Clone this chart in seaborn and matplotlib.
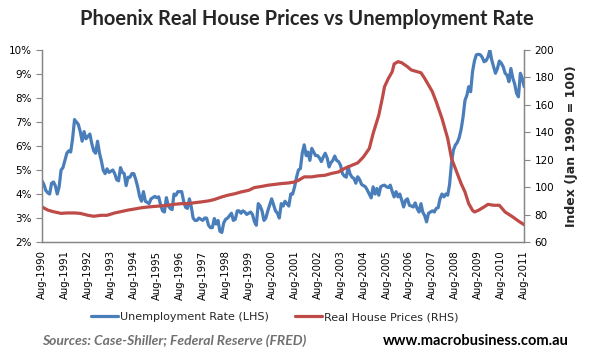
import matplotlib
matplotlib.use("Agg")
import matplotlib.pyplot as plt
import matplotlib.dates as mdates
from matplotlib.ticker import FuncFormatter, FixedLocator
import seaborn as sns
import pandas as pd

# -- data
# monthly unemployment rate (%), Aug-1990 .. Aug-2011
unemp_start = "1990-08-01"
unemp = [
    4.55, 4.4, 4.15, 4.05, 4.0, 4.45, 4.5, 4.35, 4.0, 4.3, 5.0, 5.1,
    5.4, 5.7, 5.8, 5.75, 6.3, 7.1, 7.0, 6.9, 6.6, 6.2, 6.6, 6.3,
    6.4, 6.5, 6.1, 5.8, 5.7, 6.2, 5.7, 5.4, 5.0, 4.85, 5.05, 4.9,
    4.95, 5.0, 4.85, 4.6, 4.55, 5.1, 4.9, 4.85, 4.35, 4.7, 4.7, 4.85,
    4.85, 4.6, 4.3, 3.9, 3.7, 4.1, 3.7, 3.65, 3.6, 3.8, 3.85, 3.9,
    3.85, 3.88, 3.55, 3.3, 3.25, 3.85, 3.5, 3.4, 3.35, 4.0, 3.95, 4.1,
    4.1, 4.1, 3.7, 3.45, 3.4, 3.8, 3.45, 3.0, 2.9, 2.9, 3.0, 2.95,
    2.9, 3.0, 3.0, 2.7, 2.6, 2.6, 2.98, 2.75, 2.9, 2.45, 2.4, 2.8,
    2.95, 3.0, 3.1, 3.2, 2.9, 2.95, 3.3, 3.3, 3.2, 3.3, 3.25, 3.15,
    3.2, 3.25, 3.15, 2.85, 2.7, 3.6, 3.5, 3.3, 2.9, 3.0, 3.3, 3.55,
    3.8, 3.55, 3.3, 3.2, 3.0, 3.6, 3.5, 3.7, 3.6, 3.5, 4.0, 4.0,
    4.3, 4.7, 5.0, 5.06, 5.7, 6.05, 5.6, 5.75, 5.4, 5.9, 5.75, 5.6,
    5.6, 5.5, 5.35, 5.55, 5.7, 5.5, 5.13, 5.3, 5.4, 5.58, 5.4, 5.35,
    5.2, 4.85, 4.75, 4.7, 5.13, 4.83, 4.7, 4.65, 4.45, 4.72, 4.6, 4.4,
    4.35, 4.3, 4.16, 4.0, 3.84, 4.3, 4.0, 4.23, 3.95, 4.3, 4.35, 4.37,
    4.3, 4.27, 4.37, 4.1, 3.88, 4.1, 3.88, 4.0, 3.74, 3.46, 3.74, 3.8,
    3.53, 3.5, 3.46, 3.63, 3.4, 3.25, 3.6, 3.25, 3.1, 2.84, 3.2, 3.25,
    3.3, 3.25, 3.4, 3.43, 3.8, 4.0, 3.88, 4.0, 3.95, 4.4, 5.3, 5.83,
    6.04, 6.15, 6.35, 6.7, 7.2, 7.9, 8.12, 8.47, 8.26, 9.1, 9.55, 9.8,
    9.82, 9.8, 9.7, 9.51, 9.55, 9.7, 10.0, 9.6, 9.3, 9.03, 9.23, 9.54,
    9.45, 9.3, 9.03, 8.95, 8.68, 9.23, 8.82, 8.6, 8.2, 8.05, 9.03, 8.82, 8.47,
]

# real house price index (Jan 1990 = 100)
house_dates = [
    "1990-08", "1990-11", "1991-02", "1991-06", "1991-09", "1992-01", "1992-04",
    "1992-08", "1992-11", "1993-03", "1993-06", "1993-10", "1994-01", "1994-05",
    "1994-08", "1994-12", "1995-03", "1995-07", "1995-10", "1996-02", "1996-05",
    "1996-09", "1996-12", "1997-04", "1997-07", "1997-11", "1998-02", "1998-06",
    "1998-09", "1999-01", "1999-04", "1999-08", "1999-11", "2000-03", "2000-06",
    "2000-10", "2001-01", "2001-05", "2001-08", "2001-10", "2002-01", "2002-05",
    "2002-08", "2002-12", "2003-03", "2003-07", "2003-10", "2004-02", "2004-05",
    "2004-08", "2004-11", "2005-01", "2005-04", "2005-06", "2005-07", "2005-09",
    "2005-11", "2005-12", "2006-02", "2006-04", "2006-07", "2006-09", "2006-12",
    "2007-02", "2007-04", "2007-08", "2007-10", "2008-01", "2008-04", "2008-06",
    "2008-09", "2008-11", "2009-01", "2009-03", "2009-05", "2009-06", "2009-08",
    "2009-11", "2010-01", "2010-04", "2010-07", "2010-10", "2011-02", "2011-05",
    "2011-08",
]
house = [
    85.6, 83.3, 82.1, 80.9, 81.2, 81.2, 80.9,
    79.5, 78.8, 79.5, 79.5, 81.2, 82.1, 83.3,
    84.0, 85.0, 85.5, 86.0, 86.3, 86.8, 87.5,
    88.0, 88.0, 88.7, 89.2, 90.0, 91.0, 92.9,
    94.1, 95.3, 96.5, 97.7, 99.7, 100.6, 101.4,
    102.1, 102.6, 103.1, 103.8, 105.0, 107.5, 107.5,
    108.2, 108.7, 109.9, 111.1, 113.6, 116.0, 117.7,
    122.1, 128.2, 139.1, 152.5, 165.9, 173.2, 179.3,
    184.2, 189.8, 191.5, 190.7, 187.8, 185.4, 184.2,
    183.4, 179.3, 169.6, 162.3, 150.1, 135.5, 120.9,
    109.9, 102.6, 96.5, 88.0, 83.1, 81.9, 83.1,
    85.6, 87.5, 86.8, 86.8, 81.9, 78.3, 75.3,
    72.6,
]

df_u = pd.DataFrame({
    "date": pd.date_range(unemp_start, periods=len(unemp), freq="MS"),
    "rate": unemp,
})
df_h = pd.DataFrame({"date": pd.to_datetime(house_dates), "index": house})

BLUE = "#4A7EBB"
RED = "#BE4B48"
AXIS = "#868686"

sns.set_style("white")
plt.rcParams["font.family"] = ["DejaVu Sans"]

fig = plt.figure(figsize=(5.91, 3.57), dpi=100)
ax = fig.add_axes([0.071, 0.322, 0.816, 0.538])
ax2 = ax.twinx()

sns.lineplot(data=df_u, x="date", y="rate", ax=ax, color=BLUE, lw=2.3,
             label="Unemployment Rate (LHS)", legend=False)
sns.lineplot(data=df_h, x="date", y="index", ax=ax2, color=RED, lw=2.3,
             label="Real House Prices (RHS)", legend=False)

ax.set_xlim(pd.Timestamp("1990-08-01"), pd.Timestamp("2011-08-01"))
ax.set_ylim(2, 10)
ax2.set_ylim(60, 200)
ax.yaxis.set_major_locator(FixedLocator(range(2, 11)))
ax.yaxis.set_major_formatter(FuncFormatter(lambda v, p: f"{v:.0f}%"))
ax2.yaxis.set_major_locator(FixedLocator(range(60, 201, 20)))

ax.xaxis.set_major_locator(mdates.MonthLocator(bymonth=8))
ax.xaxis.set_major_formatter(mdates.DateFormatter("%b-%Y"))
for lab in ax.get_xticklabels():
    lab.set_rotation(90)

ax.set_xlabel("")
ax.set_ylabel("")
ax2.set_xlabel("")
ax2.set_ylabel("Index (Jan 1990 = 100)", fontsize=9, fontweight="bold", labelpad=8)

for a in (ax, ax2):
    a.spines["top"].set_visible(False)
    for s in ("left", "right", "bottom"):
        a.spines[s].set_color(AXIS)
        a.spines[s].set_linewidth(0.9)
    a.tick_params(axis="both", labelsize=7.5, colors=AXIS, length=4,
                  direction="out", labelcolor="black")
ax.tick_params(axis="x", labelsize=7.3, pad=2)
ax.tick_params(axis="y", left=True)
ax2.tick_params(axis="y", right=True)

fig.text(0.52, 0.948, "Phoenix Real House Prices vs Unemployment Rate",
         ha="center", va="center", fontsize=14.5, fontweight="bold",
         family=["Lato", "DejaVu Sans"])

h1, l1 = ax.get_legend_handles_labels()
h2, l2 = ax2.get_legend_handles_labels()
fig.legend(h1 + h2, l1 + l2, loc="center", bbox_to_anchor=(0.465, 0.112),
           ncol=2, frameon=False, fontsize=8, handlelength=2.4,
           columnspacing=2.4, handletextpad=0.2)

fig.text(0.071, 0.045, "Sources: Case-Shiller; Federal Reserve (FRED)",
         ha="left", va="center", fontsize=10, fontweight="bold", style="italic",
         color="#707070", family=["Lato", "DejaVu Sans"])
fig.text(0.962, 0.045, "www.macrobusiness.com.au", ha="right", va="center",
         fontsize=10.5, fontweight="bold", color="black",
         family=["Lato", "DejaVu Sans"])

fig.savefig("out.png", dpi=100)
